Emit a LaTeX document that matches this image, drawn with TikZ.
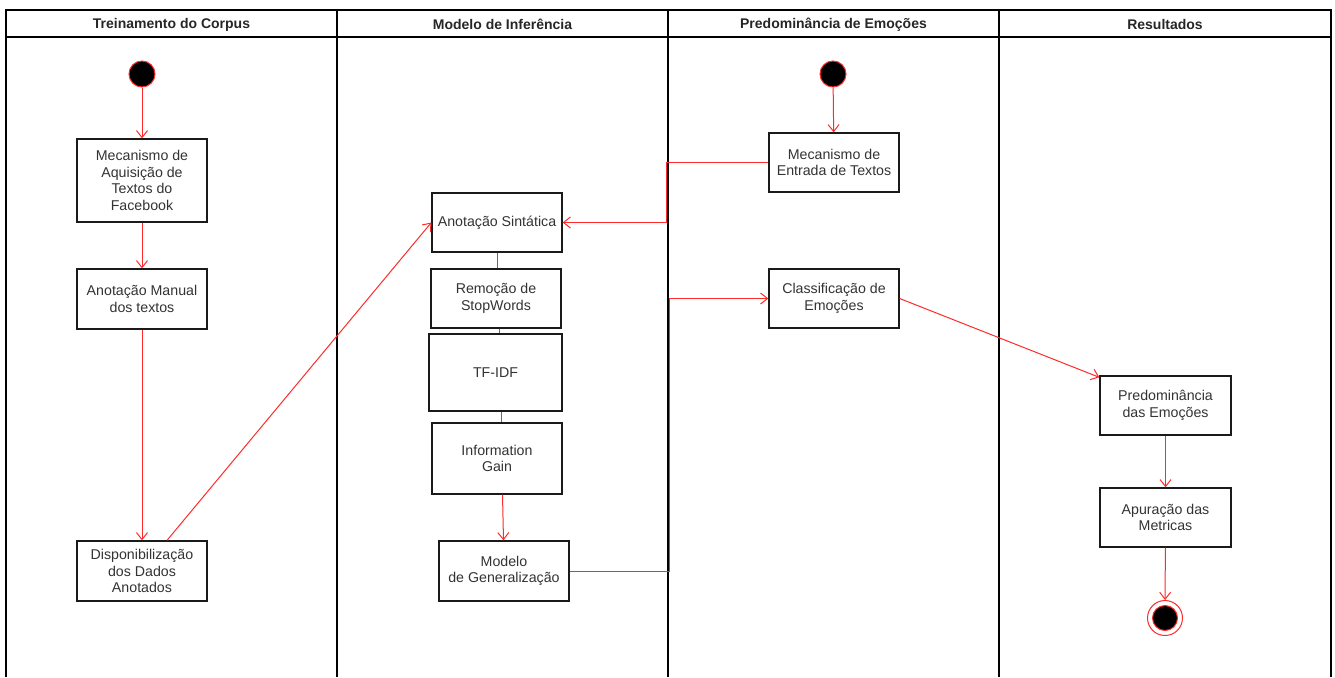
\documentclass[tikz,border=0pt]{standalone}
\usepackage{fontspec}
\setmainfont{Liberation Sans}
\usetikzlibrary{arrows.meta,calc}
\definecolor{flow}{HTML}{FF2A2A}
\definecolor{txt}{HTML}{333333}
\definecolor{edge}{HTML}{1A1A1A}
\tikzset{
  box/.style={draw=edge, line width=1.3pt, fill=white, align=center, text=txt,
    font=\fontsize{14.2}{16.5}\selectfont, inner sep=0pt},
  lane/.style={draw=black, line width=1.2pt},
  head/.style={font=\bfseries\fontsize{14}{16}\selectfont, text=black!85},
  flowline/.style={draw=flow, line width=1pt},
  arr/.style={flowline, -{Straight Barb[length=7pt,width=11pt]}},
  startdot/.style={circle, draw=flow, line width=1pt, fill=black, minimum size=26pt, inner sep=0pt},
}
\begin{document}
\begin{tikzpicture}[x=1pt,y=-1pt]
\useasboundingbox (0,0) rectangle (1335,677);
% pool
\draw[lane] (6,677) -- (6,10) -- (1331,10) -- (1331,677);
\draw[lane] (6,37) -- (1331,37);
\draw[lane] (337,10) -- (337,677);
\draw[lane] (668,10) -- (668,677);
\draw[lane] (999,10) -- (999,677);
\node[head] (h1) at (171.5,24.5) {Treinamento do Corpus};
\node[head] (h2) at (502.5,24.5) {Modelo de Inferência};
\node[head] (h3) at (833.5,24.5) {Predominância de Emoções};
\node[head] (h4) at (1165,24.5) {Resultados};
% lane 1
\node[startdot] (s1) at (142,74) {};
\node[box, minimum width=130, minimum height=83] (aq) at (142,180.5) {Mecanismo de\\Aquisição de\\Textos do\\Facebook};
\node[box, minimum width=130, minimum height=60] (man) at (142,299) {Anotação Manual\\dos textos};
\node[box, minimum width=130, minimum height=60] (disp) at (142,571) {Disponibilização\\dos Dados\\Anotados};
% lane 2
\node[box, minimum width=130, minimum height=59] (sint) at (497,222.5) {Anotação Sintática};
\node[box, minimum width=130, minimum height=59] (rem) at (496,298.5) {Remoção de\\StopWords};
\node[box, minimum width=133, minimum height=77] (tf) at (495.5,372.5) {TF-IDF};
\node[box, minimum width=130, minimum height=71] (ig) at (497,458.5) {Information\\Gain};
\node[box, minimum width=130, minimum height=60] (mod) at (504,571) {Modelo\\de Generalização};
% lane 3
\node[startdot] (s2) at (833,74) {};
\node[box, minimum width=130, minimum height=59] (entr) at (834,162.5) {Mecanismo de\\Entrada de Textos};
\node[box, minimum width=130, minimum height=59] (cls) at (834,298.5) {Classificação de\\Emoções};
% lane 4
\node[box, minimum width=131, minimum height=59] (pred) at (1165.5,405.5) {Predominância\\das Emoções};
\node[box, minimum width=131, minimum height=59] (apu) at (1165.5,517.5) {Apuração das\\Metricas};
\node[circle, draw=flow, line width=1pt, minimum size=35pt, inner sep=0pt] (fin) at (1165,618) {};
\node[circle, draw=flow, line width=1pt, fill=black, minimum size=25pt, inner sep=0pt] (finin) at (1165,618) {};
% routing coordinates
\coordinate (r1) at (666,0);
\coordinate (r2) at (669,0);
% connectors
\draw[arr] (s1) -- (aq);
\draw[arr] (aq) -- (man);
\draw[arr] (man) -- (disp);
\draw[arr] ($(disp.north)+(25,0)$) -- (sint.west);
\draw[flowline] (sint.south) -- (sint.south |- rem.north);
\draw[flowline] ($(rem.south)+(3,0)$) -- ($(tf.north)+(3.5,0)$);
\draw[flowline] ($(tf.south)+(5.5,0)$) -- ($(ig.north)+(4,0)$);
\draw[arr] ($(ig.south)+(5.5,0)$) -- ($(mod.north)+(-0.5,0)$);
\draw[arr] (s2) -- (entr);
\draw[arr] (entr.west) -- (entr.west -| r1) -- (sint.east -| r1) -- (sint.east);
\draw[arr] (mod.east) -- (mod.east -| r2) -- (cls.west -| r2) -- (cls.west);
\draw[arr] (cls.east) -- ($(pred.north west)+(0,2)$);
\draw[arr] (pred) -- (apu);
\draw[arr] (apu) -- (fin);
\end{tikzpicture}
\end{document}
